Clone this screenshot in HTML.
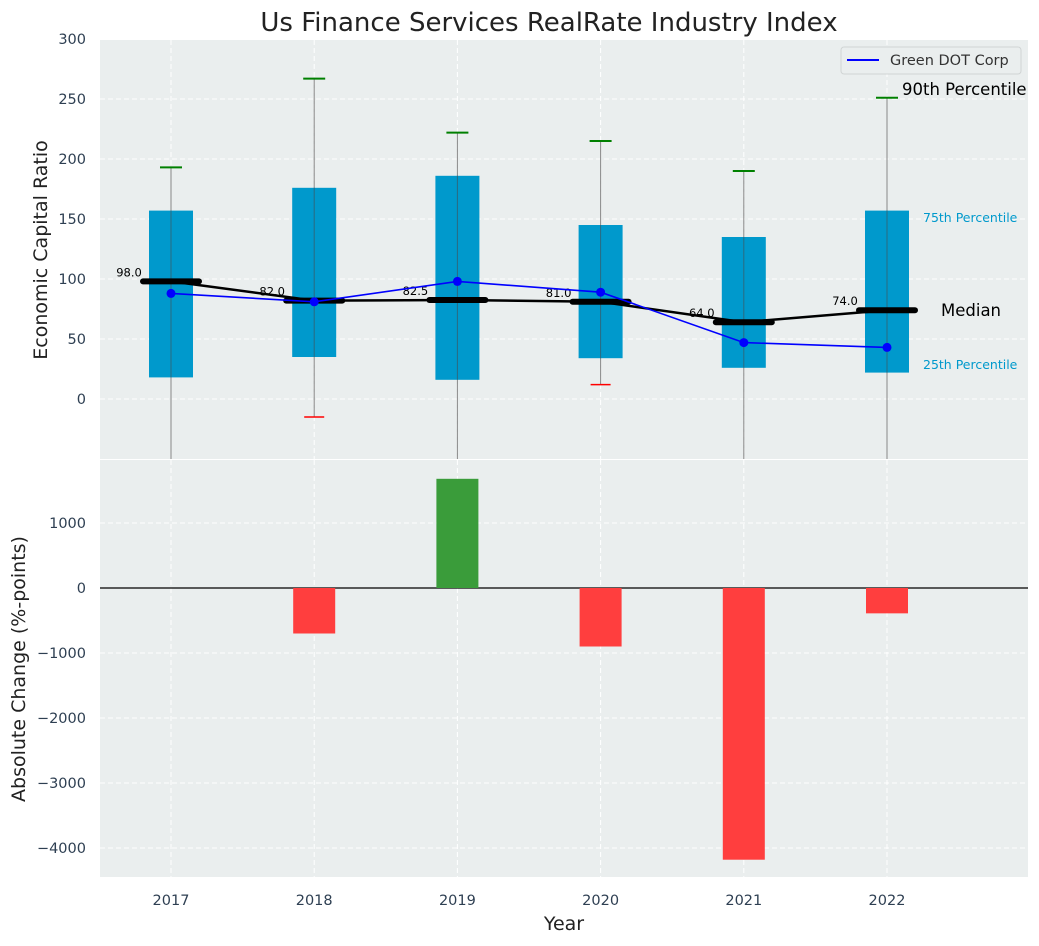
<!DOCTYPE html>
<html><head><meta charset="utf-8"><style>
body{margin:0;background:#fff;font-family:"DejaVu Sans","Liberation Sans",sans-serif;}
svg text{font-family:"DejaVu Sans","Liberation Sans",sans-serif;}
</style></head><body>
<svg id="c" width="1039" height="942" xmlns="http://www.w3.org/2000/svg"></svg>
<script>
const years=[2017,2018,2019,2020,2021,2022];
const q1=[18,35,16,34,26,22];
const q3=[157,176,186,145,135,157];
const p90=[193,267,222,215,190,251];
const p10=[-60,-15,-60,12,-60,-60];
const p10Shown=[false,true,false,true,false,false];
const medians=[98,82,82.5,81,64,74];
const company=[88,81,98,89,47,43];
const changes=[0,-700,1680,-900,-4180,-390];
const topTicks=[0,50,100,150,200,250,300];
const botTicks=[-4000,-3000,-2000,-1000,0,1000];

const NS="http://www.w3.org/2000/svg";
const svg=document.getElementById('c');
function el(t,a,p){const e=document.createElementNS(NS,t);for(const k in a)e.setAttribute(k,a[k]);(p||svg).appendChild(e);return e;}
const X0=100,X1=1028;
const x=v=>171+(v-2017)*143.2;
const yT=v=>399-v*1.2;
const yB=v=>588-v*0.065;
const fmtNum=v=>(v<0?'\u2212':'')+Math.abs(v);

let e=el('rect',{x:X0,y:40,width:X1-X0,height:419,fill:'#eaeeee'});

e=el('rect',{x:X0,y:460,width:X1-X0,height:417,fill:'#eaeeee'});


years.forEach(yr=>{
  el('line',{x1:x(yr),x2:x(yr),y1:40,y2:459,stroke:'#fff','stroke-dasharray':'5,3','stroke-width':1});
  el('line',{x1:x(yr),x2:x(yr),y1:460,y2:877,stroke:'#fff','stroke-dasharray':'5,3','stroke-width':1});
});
topTicks.forEach(t=>{
  el('line',{x1:X0,x2:X1,y1:yT(t),y2:yT(t),stroke:'#fff','stroke-dasharray':'5,3'});
  e=el('text',{x:86,y:yT(t)+5,'text-anchor':'end','font-size':14.5,fill:'#2e3f52'});e.textContent=t;
  
});
botTicks.forEach(t=>{
  el('line',{x1:X0,x2:X1,y1:yB(t),y2:yB(t),stroke:'#fff','stroke-dasharray':'5,3'});
  e=el('text',{x:86,y:yB(t)+5,'text-anchor':'end','font-size':14.5,fill:'#2e3f52'});e.textContent=fmtNum(t);
  
});

years.forEach((yr,i)=>{
  const cx=x(yr);
  el('line',{x1:cx,x2:cx,y1:yT(p90[i]),y2:Math.min(459,yT(p10[i])),stroke:'#888','stroke-width':1});
  e=el('rect',{x:cx-22,y:yT(q3[i]),width:44,height:yT(q1[i])-yT(q3[i]),fill:'#0099cc'});
  
  el('line',{x1:cx,x2:cx,y1:yT(q3[i]),y2:yT(q1[i]),stroke:'#2a6a80','stroke-width':1});
  el('line',{x1:cx-11,x2:cx+11,y1:yT(p90[i]),y2:yT(p90[i]),stroke:'green','stroke-width':2});
  if(p10Shown[i])el('line',{x1:cx-10,x2:cx+10,y1:yT(p10[i]),y2:yT(p10[i]),stroke:'red','stroke-width':1.5});
});
e=el('polyline',{points:years.map((yr,i)=>x(yr)+','+yT(medians[i])).join(' '),fill:'none',stroke:'#000','stroke-width':2.5});

years.forEach((yr,i)=>{
  el('line',{x1:x(yr)-28,x2:x(yr)+28,y1:yT(medians[i]),y2:yT(medians[i]),stroke:'#000','stroke-width':6,'stroke-linecap':'round'});
  e=el('text',{x:x(yr)-42,y:yT(medians[i])-5,'text-anchor':'middle','font-size':11.5,fill:'#000'});e.textContent=medians[i].toFixed(1);
  
});
e=el('polyline',{points:years.map((yr,i)=>x(yr)+','+yT(company[i])).join(' '),fill:'none',stroke:'blue','stroke-width':1.6});

years.forEach((yr,i)=>el('circle',{cx:x(yr),cy:yT(company[i]),r:4.5,fill:'blue'}));

[['90th Percentile',902,95,16.5,'#000'],['75th Percentile',923,222,12.5,'#0099cc'],['Median',941,316,16.5,'#000'],['25th Percentile',923,369,12.5,'#0099cc']].forEach(a=>{
  e=el('text',{x:a[1],y:a[2],'font-size':a[3],fill:a[4]});e.textContent=a[0];
  
});

e=el('rect',{x:841,y:47,width:180,height:27,rx:3,fill:'#eaeeee',stroke:'#d0d4d4'});

el('line',{x1:847,x2:879,y1:60,y2:60,stroke:'blue','stroke-width':2});
e=el('text',{x:890,y:65,'font-size':14.5,fill:'#333'});e.textContent='Green DOT Corp';


el('line',{x1:X0,x2:X1,y1:yB(0),y2:yB(0),stroke:'#000','stroke-width':1.2});
years.forEach((yr,i)=>{
  const v=changes[i];if(v===0)return;
  e=el('rect',{x:x(yr)-21,y:Math.min(yB(v),yB(0)),width:42,height:Math.abs(yB(v)-yB(0)),fill:v>0?'#3a9c3a':'#ff3e3e'});
  
});
years.forEach(yr=>{e=el('text',{x:x(yr),y:905,'text-anchor':'middle','font-size':14.5,fill:'#2e3f52'});e.textContent=yr;
  });

e=el('text',{x:549,y:31,'text-anchor':'middle','font-size':26,fill:'#222'});e.textContent='Us Finance Services RealRate Industry Index';

e=el('text',{x:564,y:930,'text-anchor':'middle','font-size':19,fill:'#222'});e.textContent='Year';

e=el('text',{x:0,y:0,'text-anchor':'middle','font-size':19,fill:'#222',transform:'translate(47,250) rotate(-90)'});e.textContent='Economic Capital Ratio';

e=el('text',{x:0,y:0,'text-anchor':'middle','font-size':19,fill:'#222',transform:'translate(25,669) rotate(-90)'});e.textContent='Absolute Change (%-points)';

</script>
</body></html>
